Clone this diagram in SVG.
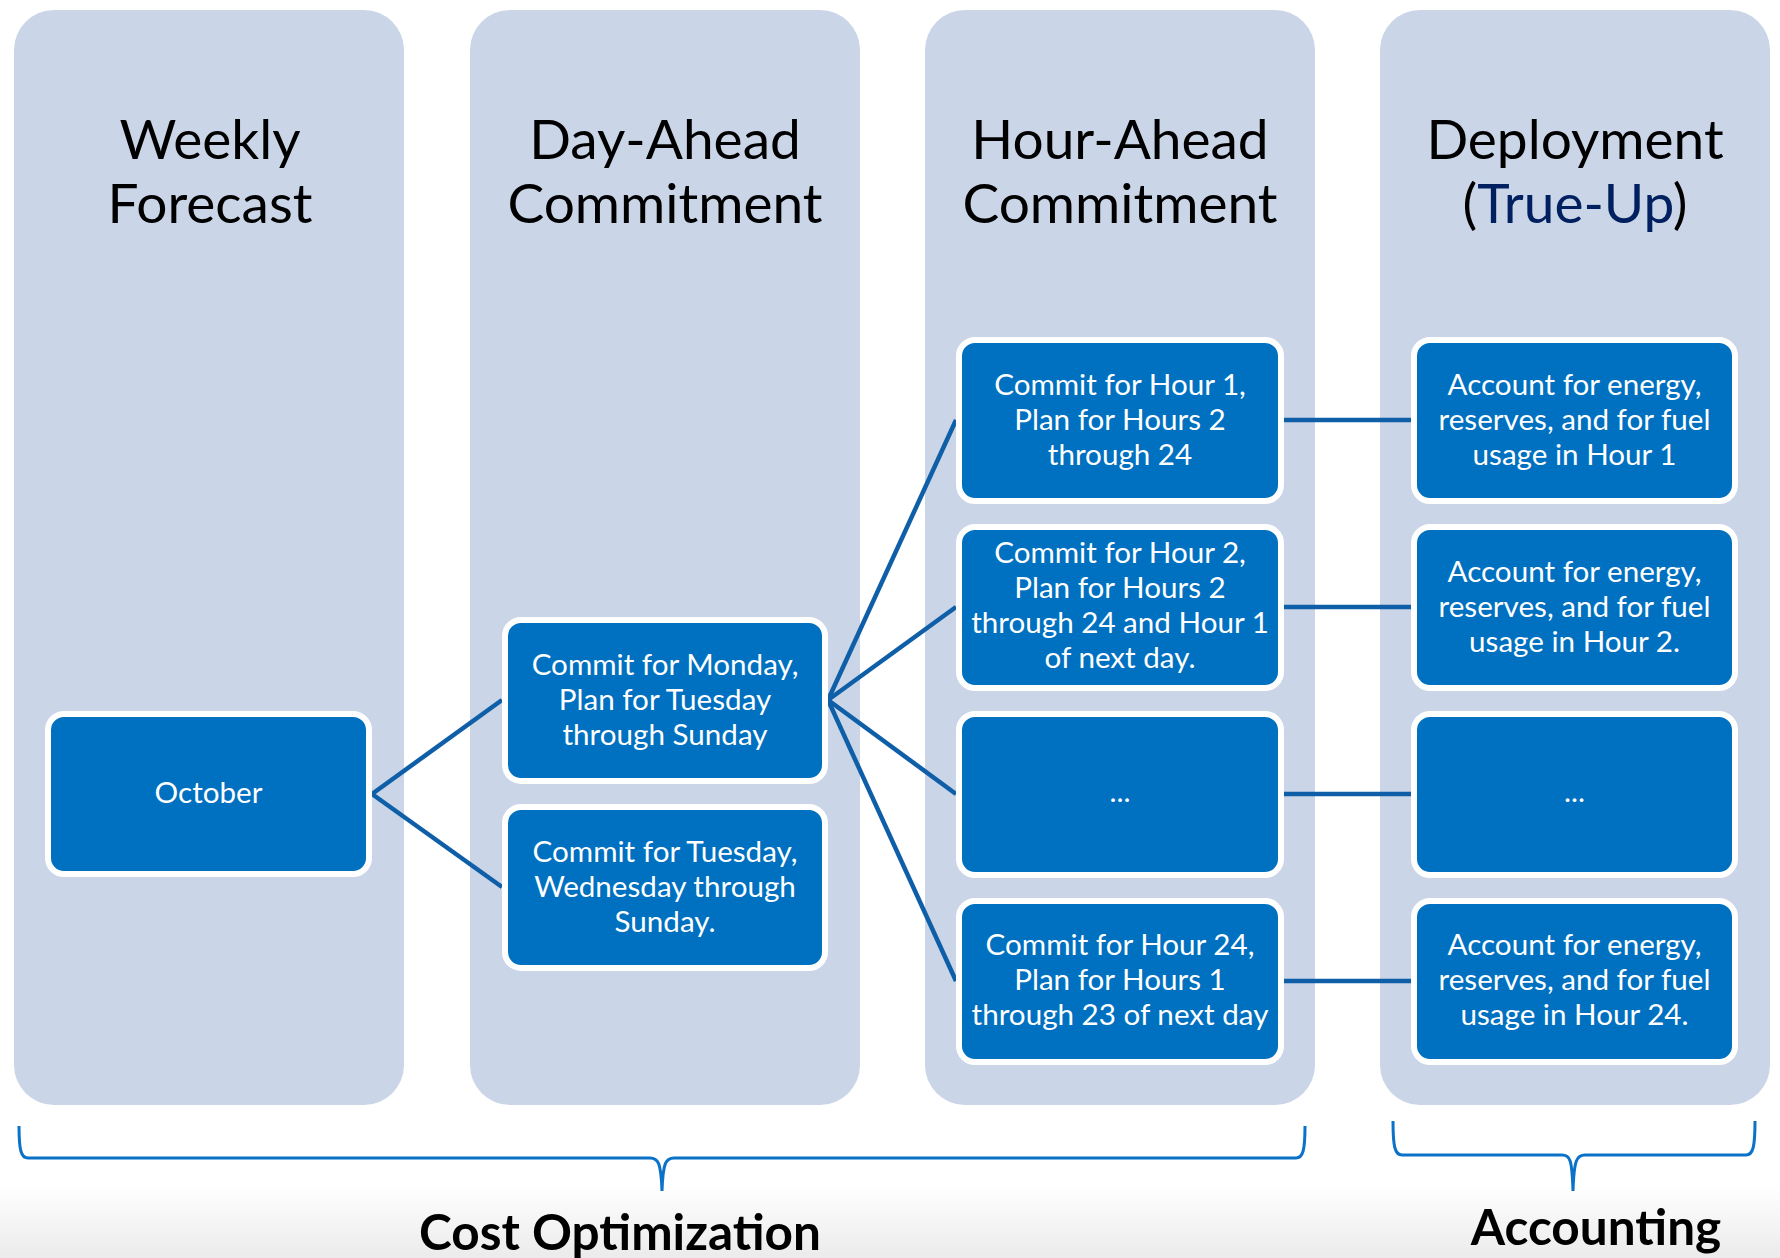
<svg xmlns="http://www.w3.org/2000/svg" width="1780" height="1258" viewBox="0 0 1780 1258">
<defs>
<linearGradient id="bg" x1="0" y1="0" x2="0" y2="1">
<stop offset="0" stop-color="#ffffff"/>
<stop offset="1" stop-color="#ebebeb"/>
</linearGradient>
<style>
.col{fill:#CAD5E7;}
.hdr{font-family:Lato,"Open Sans","Liberation Sans",sans-serif;font-size:55px;fill:#000;text-anchor:middle;}
.box{fill:#0070C0;stroke:#ffffff;stroke-width:6;}
.bt{font-family:Lato,"Open Sans","Liberation Sans",sans-serif;font-size:29.6px;fill:#ffffff;text-anchor:middle;}
.con{stroke:#0F5FA8;stroke-width:4.5;fill:none;}
.brace{stroke:#0A72C8;stroke-width:3;fill:none;}
.lbl{font-family:Lato,"Open Sans","Liberation Sans",sans-serif;font-size:49.5px;font-weight:bold;fill:#000;text-anchor:middle;}
</style>
</defs>
<rect x="0" y="0" width="1780" height="1258" fill="#ffffff"/>
<rect x="0" y="1185" width="1780" height="73" fill="url(#bg)"/>

<g id="columns">
<g id="col-weekly"><rect class="col" x="14" y="10" width="390" height="1095" rx="40"/>
<text class="hdr" x="210" y="159">Weekly</text><text class="hdr" x="210" y="223">Forecast</text></g>
<g id="col-dayahead"><rect class="col" x="470" y="10" width="390" height="1095" rx="40"/>
<text class="hdr" x="665" y="159">Day-Ahead</text><text class="hdr" x="665" y="223">Commitment</text></g>
<g id="col-hourahead"><rect class="col" x="925" y="10" width="390" height="1095" rx="40"/>
<text class="hdr" x="1120" y="159">Hour-Ahead</text><text class="hdr" x="1120" y="223">Commitment</text></g>
<g id="col-deploy"><rect class="col" x="1380" y="10" width="390" height="1095" rx="40"/>
<text class="hdr" x="1575" y="159">Deployment</text><text class="hdr" x="1575" y="223">(<tspan fill="#002060">True-Up</tspan>)</text></g>
</g>

<g id="connectors">
<line class="con" x1="372" y1="794" x2="502" y2="700"/>
<line class="con" x1="372" y1="794" x2="502" y2="887"/>
<line class="con" x1="828" y1="700" x2="956" y2="420"/>
<line class="con" x1="828" y1="700" x2="956" y2="607"/>
<line class="con" x1="828" y1="700" x2="956" y2="794"/>
<line class="con" x1="828" y1="700" x2="956" y2="981"/>
<line class="con" x1="1284" y1="420" x2="1411" y2="420"/>
<line class="con" x1="1284" y1="607" x2="1411" y2="607"/>
<line class="con" x1="1284" y1="794" x2="1411" y2="794"/>
<line class="con" x1="1284" y1="981" x2="1411" y2="981"/>
</g>

<g id="node-october"><rect class="box" x="48" y="714" width="321" height="160" rx="16"/>
<text class="bt" x="208.5" y="803">October</text></g>

<g id="node-day1"><rect class="box" x="505" y="620" width="320" height="161" rx="16"/>
<text class="bt" x="665" y="675">Commit for Monday,</text><text class="bt" x="665" y="710">Plan for Tuesday</text><text class="bt" x="665" y="745">through Sunday</text></g>
<g id="node-day2"><rect class="box" x="505" y="807" width="320" height="161" rx="16"/>
<text class="bt" x="665" y="862">Commit for Tuesday,</text><text class="bt" x="665" y="897">Wednesday through</text><text class="bt" x="665" y="932">Sunday.</text></g>

<g id="node-hour1"><rect class="box" x="959" y="340" width="322" height="161" rx="16"/>
<text class="bt" x="1120" y="395">Commit for Hour 1,</text><text class="bt" x="1120" y="430">Plan for Hours 2</text><text class="bt" x="1120" y="465">through 24</text></g>
<g id="node-hour2"><rect class="box" x="959" y="527" width="322" height="161" rx="16"/>
<text class="bt" x="1120" y="563">Commit for Hour 2,</text><text class="bt" x="1120" y="598">Plan for Hours 2</text><text class="bt" x="1120" y="633">through 24 and Hour 1</text><text class="bt" x="1120" y="668">of next day.</text></g>
<g id="node-hour3"><rect class="box" x="959" y="714" width="322" height="161" rx="16"/>
<text class="bt" x="1120" y="802">...</text></g>
<g id="node-hour24"><rect class="box" x="959" y="901" width="322" height="161" rx="16"/>
<text class="bt" x="1120" y="955">Commit for Hour 24,</text><text class="bt" x="1120" y="990">Plan for Hours 1</text><text class="bt" x="1120" y="1025">through 23 of next day</text></g>

<g id="node-acc1"><rect class="box" x="1414" y="340" width="321" height="161" rx="16"/>
<text class="bt" x="1574.5" y="395">Account for energy,</text><text class="bt" x="1574.5" y="430">reserves, and for fuel</text><text class="bt" x="1574.5" y="465">usage in Hour 1</text></g>
<g id="node-acc2"><rect class="box" x="1414" y="527" width="321" height="161" rx="16"/>
<text class="bt" x="1574.5" y="582">Account for energy,</text><text class="bt" x="1574.5" y="617">reserves, and for fuel</text><text class="bt" x="1574.5" y="652">usage in Hour 2.</text></g>
<g id="node-acc3"><rect class="box" x="1414" y="714" width="321" height="161" rx="16"/>
<text class="bt" x="1574.5" y="802">...</text></g>
<g id="node-acc24"><rect class="box" x="1414" y="901" width="321" height="161" rx="16"/>
<text class="bt" x="1574.5" y="955">Account for energy,</text><text class="bt" x="1574.5" y="990">reserves, and for fuel</text><text class="bt" x="1574.5" y="1025">usage in Hour 24.</text></g>

<g id="brace-cost">
<path class="brace" d="M19,1126 C19,1150 21,1158 28,1158 L650,1158 C658,1158 661,1162 662,1191 C663,1162 666,1158 674,1158 L1296,1158 C1303,1158 1305,1150 1305,1126"/>
<text class="lbl" x="620" y="1250">Cost Optimization</text>
</g>
<g id="brace-accounting">
<path class="brace" d="M1393,1121 C1393,1147 1395,1155 1402,1155 L1562,1155 C1570,1155 1572,1159 1573,1191 C1574,1159 1577,1155 1585,1155 L1746,1155 C1753,1155 1755,1147 1755,1121"/>
<text class="lbl" x="1596" y="1245">Accounting</text>
</g>
</svg>
